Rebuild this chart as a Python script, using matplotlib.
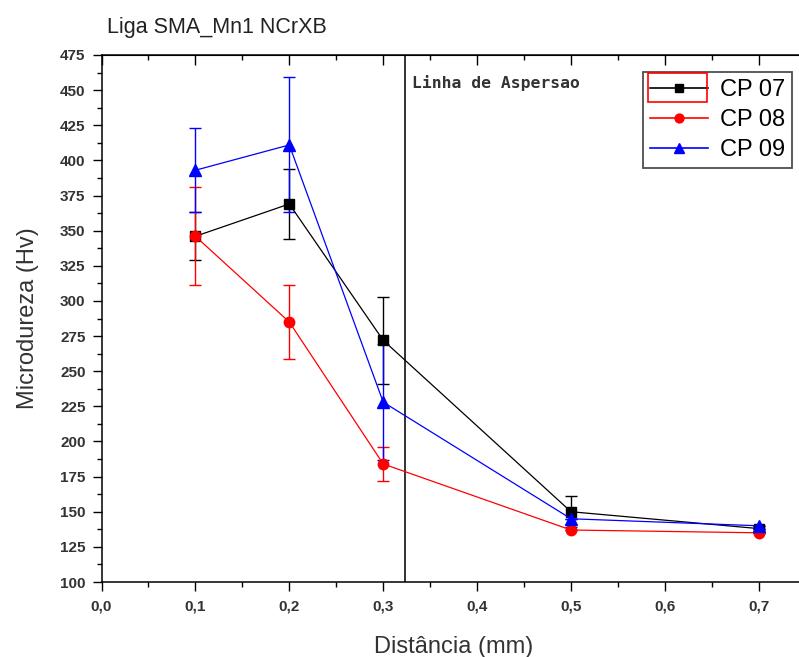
import matplotlib
matplotlib.use("Agg")
import matplotlib.pyplot as plt
from matplotlib.ticker import MultipleLocator, FuncFormatter
from matplotlib.patches import Rectangle
from matplotlib.lines import Line2D

plt.rcParams['font.family'] = ['Liberation Sans', 'DejaVu Sans']

x = [0.1, 0.2, 0.3, 0.5, 0.7]
cp07 = [346, 369, 272, 150, 138]
cp07_err = [17, 25, 31, 11, 0]
cp08 = [346, 285, 184, 137, 135]
cp08_err = [35, 26, 12, 0, 0]
cp09 = [393, 411, 228, 145, 140]
cp09_err = [30, 48, 41, 0, 0]
labels = ['CP 07', 'CP 08', 'CP 09']
aspersao_x = 0.323

fig = plt.figure(figsize=(7.99, 6.57), dpi=100)
L, R, T, B = 101.5, 806.0, 55.0, 582.0
PX_PER_TENTH = 93.9
ax = fig.add_axes([L/799, (657-B)/657, (R-L)/799, (B-T)/657])

styles = [('black', 's', 7), ('red', 'o', 7.5), ('blue', '^', 8.5)]
for ys, es, (c, m, ms) in zip([cp07, cp08, cp09], [cp07_err, cp08_err, cp09_err], styles):
    ax.errorbar(x, ys, yerr=es, color=c, marker=m, ms=ms, lw=0.9,
                capsize=4, elinewidth=1.0, capthick=1.0, zorder=3)

ax.axvline(aspersao_x, color='#222222', lw=1.3, zorder=2)
ax.text(aspersao_x + 0.008, 455, 'Linha de Aspersao', fontsize=11.8,
        family='DejaVu Sans Mono', weight='bold', color='#333333',
        va='center', ha='left')

ax.set_xlim(0, 0.1 * (R - L) / PX_PER_TENTH)
ax.set_ylim(100, 475)
ax.xaxis.set_major_locator(MultipleLocator(0.1))
ax.xaxis.set_minor_locator(MultipleLocator(0.05))
ax.yaxis.set_major_locator(MultipleLocator(25))
ax.yaxis.set_minor_locator(MultipleLocator(12.5))
ax.xaxis.set_major_formatter(FuncFormatter(lambda v, p: f"{v:.1f}".replace('.', ',')))
ax.yaxis.set_major_formatter(FuncFormatter(lambda v, p: f"{v:.0f}"))

ax.tick_params(which='major', length=6.5, width=1.0, labelsize=11)
ax.tick_params(which='minor', length=3.5, width=1.0)
ax.tick_params(axis='y', which='both', left=True, right=False, direction='out')
ax.tick_params(axis='y', which='major', pad=5)
ax.tick_params(axis='x', which='both', bottom=True, top=False, direction='out')
ax.tick_params(axis='x', which='major', pad=6)
ax.spines['right'].set_visible(False)
# inward ticks on the top spine
top = ax.secondary_xaxis('top')
top.xaxis.set_major_locator(MultipleLocator(0.1))
top.xaxis.set_minor_locator(MultipleLocator(0.05))
top.tick_params(which='major', direction='in', length=7, width=1.0, labeltop=False)
top.tick_params(which='minor', direction='in', length=3.5, width=1.0)

for lab in ax.get_xticklabels() + ax.get_yticklabels():
    lab.set_color('#333333')
    lab.set_fontweight('bold')
for s in ax.spines.values():
    s.set_linewidth(1.1)

ax.set_xlabel('Distância (mm)', fontsize=17, labelpad=16, color='#333333')
ax.set_ylabel('Microdureza (Hv)', fontsize=17, labelpad=15, color='#333333')
fig.text(107/799, 1 - 28/657, 'Liga SMA_Mn1 NCrXB', fontsize=15.5, va='center', ha='left', color='#222222')

handles = [Line2D([], [], color=c, marker=m, ms=ms*0.85, lw=1.2) for c, m, ms in styles]
leg = ax.legend(handles, labels, loc='upper right',
                bbox_to_anchor=((792-L)/(R-L), (B-72)/(B-T)),
                fontsize=17, frameon=True, fancybox=False, edgecolor='#222222',
                handlelength=2.45, borderpad=0.3, labelspacing=0.34, handletextpad=0.5,
                borderaxespad=0)
leg.get_frame().set_linewidth(1.3)

# selection highlight around first legend handle
fig.patches.append(Rectangle((648/799, 1 - 102/657), (707-648)/799, 29/657,
                             transform=fig.transFigure, fill=False, edgecolor='red', lw=1.2))

fig.savefig('out.png', dpi=100)
